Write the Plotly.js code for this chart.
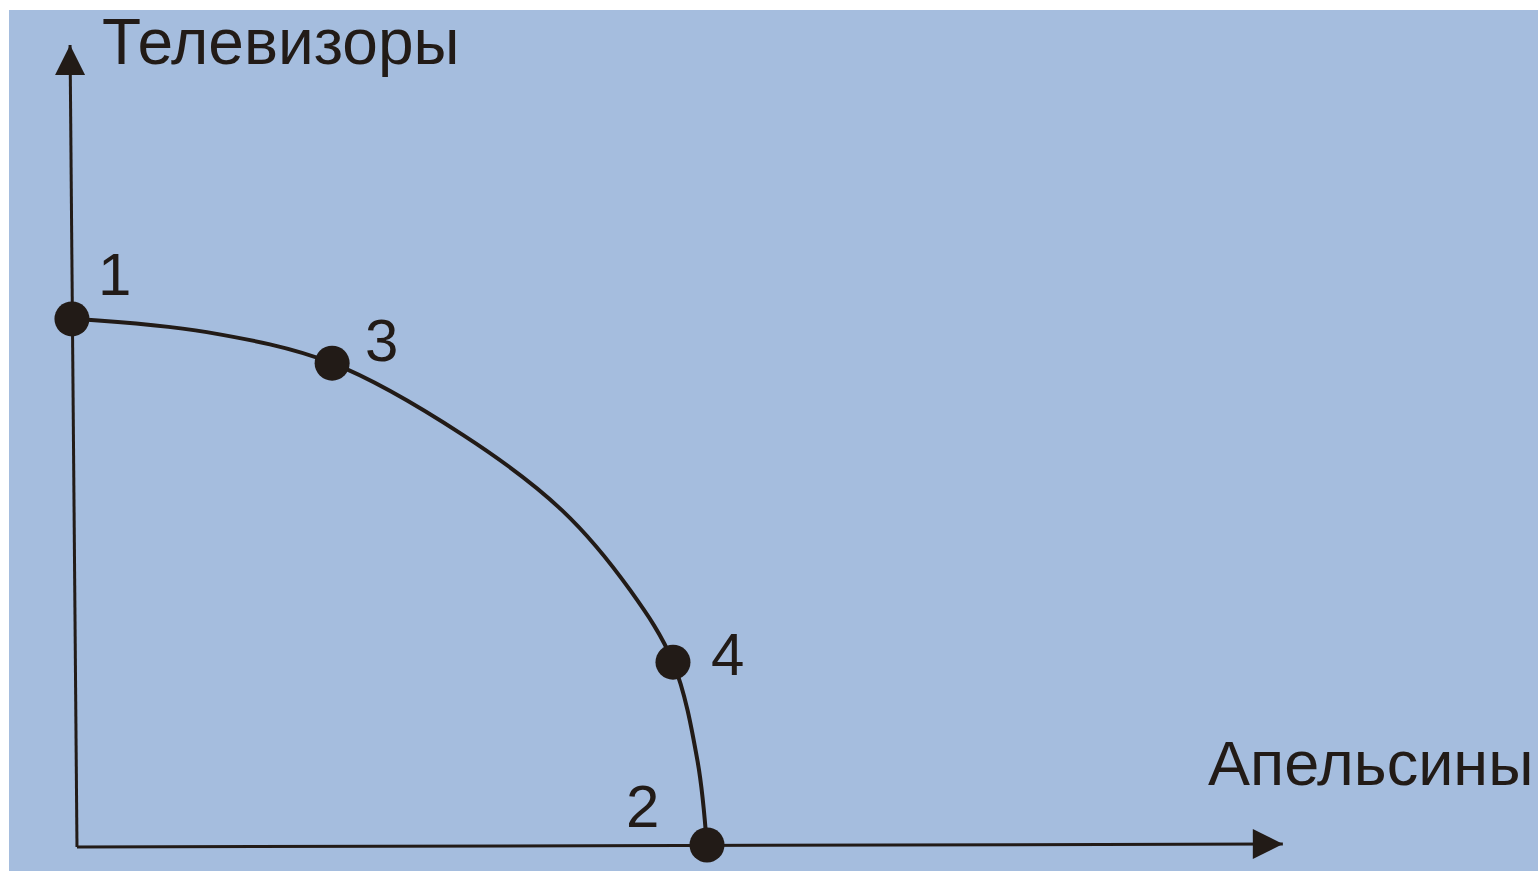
<!DOCTYPE html>
<html>
<head>
<meta charset="utf-8">
<script src="https://cdn.plot.ly/plotly-3.0.1.min.js"></script>
<style>
  html, body { margin: 0; padding: 0; background: #ffffff; }
  #plot { width: 1538px; height: 871px; }
</style>
</head>
<body>
<div id="plot"></div>
<script>
// Кривая производственных возможностей
const frontierX = [0, 2.06, 4.05, 6.13, 7.7, 8.78, 9.46, 9.85, 10];
const frontierY = [8, 7.8, 7.33, 6.24, 5.1, 3.89, 2.8, 1.3, 0];

// Отмеченные точки
const pointNames = ['1', '3', '4', '2'];
const pointX = [-0.08, 4.05, 9.46, 10];
const pointY = [8, 7.33, 2.8, 0.03];

// Оси (начало и конец со стрелкой)
const axisYX = [0, -0.11];
const axisYY = [0, 12.15];
const axisXX = [0, 19.14];
const axisXY = [0, 0.045];

const axisNames = ['Телевизоры', 'Апельсины'];

const ink = '#221b17';
const font = 'Liberation Sans, Arial, sans-serif';

const frontier = {
  x: frontierX,
  y: frontierY,
  mode: 'lines',
  type: 'scatter',
  line: { shape: 'spline', smoothing: 1, width: 4, color: ink },
  hoverinfo: 'skip'
};

const yAxisLine = {
  x: axisYX, y: axisYY, mode: 'lines', type: 'scatter',
  line: { width: 3, color: ink }, hoverinfo: 'skip'
};

const xAxisLine = {
  x: axisXX, y: axisXY, mode: 'lines', type: 'scatter',
  line: { width: 3, color: ink }, hoverinfo: 'skip'
};

const arrows = {
  x: [axisYX[1], axisXX[1]],
  y: [axisYY[1], axisXY[1]],
  mode: 'markers', type: 'scatter',
  marker: { symbol: ['arrow-up', 'arrow-right'], size: 30, color: ink, line: { width: 0 } },
  hoverinfo: 'skip'
};

const points = {
  x: pointX,
  y: pointY,
  mode: 'markers',
  type: 'scatter',
  marker: { size: 35, color: ink },
  hoverinfo: 'skip'
};

// Позиции подписей
const labelPos = [[0.59, 8.67], [4.84, 7.68], [10.32, 2.91], [8.97, 0.62]];

const annotations = pointNames.map((t, i) => ({
  x: labelPos[i][0], y: labelPos[i][1], xref: 'x', yref: 'y',
  text: t, showarrow: false, xanchor: 'center', yanchor: 'middle',
  font: { family: font, size: 60, color: ink }
}));

annotations.push({
  x: 0.36, y: 12.2, xref: 'x', yref: 'y', text: axisNames[0],
  showarrow: false, xanchor: 'left', yanchor: 'middle',
  font: { family: font, size: 64, color: ink }
});
annotations.push({
  x: 17.92, y: 1.27, xref: 'x', yref: 'y', text: axisNames[1],
  showarrow: false, xanchor: 'left', yanchor: 'middle',
  font: { family: font, size: 63, color: ink }
});

const hidden = { showgrid: false, zeroline: false, showticklabels: false, ticks: '', showline: false, fixedrange: true };

const layout = {
  width: 1538,
  height: 871,
  margin: { l: 9, r: 0, t: 10, b: 0 },
  paper_bgcolor: '#ffffff',
  plot_bgcolor: '#a5bdde',
  showlegend: false,
  xaxis: Object.assign({ range: [-1.079, 23.19] }, hidden),
  yaxis: Object.assign({ range: [-0.364, 12.68] }, hidden),
  annotations: annotations
};

Plotly.newPlot('plot', [frontier, yAxisLine, xAxisLine, arrows, points], layout, { displayModeBar: false, staticPlot: true });
</script>
</body>
</html>
